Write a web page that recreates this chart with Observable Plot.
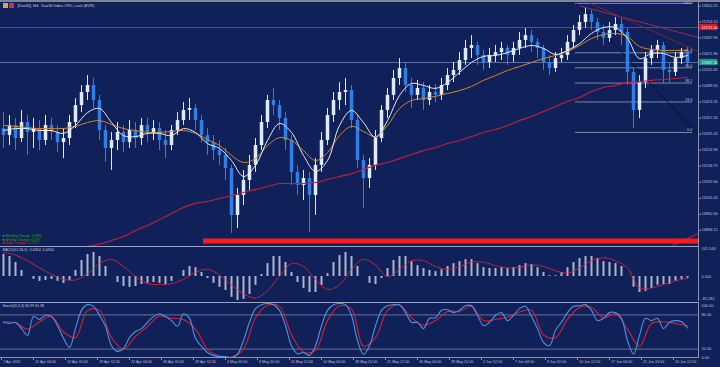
<!DOCTYPE html>
<html><head><meta charset="utf-8">
<script src="https://cdn.jsdelivr.net/npm/d3@7"></script>
<script src="https://cdn.jsdelivr.net/npm/@observablehq/plot@0.6"></script>
<style>
html,body{margin:0;padding:0;background:#102058;}
#wrap{position:relative;width:720px;height:367px;background:#102058;overflow:hidden;}
#wrap svg{overflow:visible;}
.ln{position:absolute;}
</style></head><body><div id="wrap"></div>
<script>
// ---------- data ----------
const titleText = "[Dax30], H4:  Dax30 Index CFD, cash (EUR)";
const candleOpen = [15314,15285,15327,15273,15339,15298,15314,15265,15327,15298,
15256,15273,15339,15409,15463,15492,15430,15306,15232,15265,
15298,15256,15306,15273,15327,15298,15314,15265,15244,15306,
15347,15389,15397,15347,15285,15256,15223,15203,15149,14955,
15038,15100,15162,15244,15339,15430,15409,15356,15265,15133,
15079,15108,15038,15162,15265,15368,15430,15463,15471,15347,
15182,15108,15162,15273,15389,15451,15521,15562,15492,15451,
15480,15430,15463,15451,15492,15533,15554,15595,15645,15657,
15616,15587,15616,15628,15645,15616,15645,15678,15698,15670,
15645,15587,15562,15603,15616,15670,15719,15752,15785,15752,
15711,15686,15719,15744,15711,15546,15389,15504,15603,15637,
15657,15554,15546,15603,15628];
const candleClose = [15285,15327,15273,15339,15298,15314,15265,15327,15298,15256,
15273,15339,15409,15463,15492,15430,15306,15232,15265,15298,
15256,15306,15273,15327,15298,15314,15265,15244,15306,15347,
15389,15397,15347,15285,15256,15223,15203,15149,14955,15038,
15100,15162,15244,15339,15430,15409,15356,15265,15133,15079,
15108,15038,15162,15265,15368,15430,15463,15471,15347,15182,
15108,15162,15273,15389,15451,15521,15562,15492,15451,15480,
15430,15463,15451,15492,15533,15554,15595,15645,15657,15616,
15587,15616,15628,15645,15616,15645,15678,15698,15670,15645,
15587,15562,15603,15616,15670,15719,15752,15785,15752,15711,
15686,15719,15744,15711,15546,15389,15504,15603,15637,15657,
15554,15546,15603,15628,15587];
const candleHigh = [15380,15368,15356,15389,15368,15356,15347,15368,15356,15327,
15314,15368,15438,15492,15533,15521,15451,15327,15298,15339,
15327,15347,15339,15356,15356,15347,15339,15306,15327,15380,
15422,15438,15413,15368,15314,15285,15265,15232,15162,15067,
15141,15203,15273,15368,15451,15480,15430,15380,15285,15162,
15141,15133,15190,15298,15397,15463,15504,15521,15492,15368,
15203,15190,15306,15409,15480,15554,15603,15587,15521,15513,
15504,15492,15496,15521,15562,15587,15628,15678,15698,15670,
15637,15645,15657,15670,15657,15670,15711,15727,15719,15686,
15657,15616,15628,15645,15698,15740,15781,15810,15802,15769,
15740,15752,15773,15769,15727,15562,15533,15628,15657,15678,
15670,15587,15628,15645,15649];
const candleLow = [15232,15244,15223,15256,15203,15232,15223,15244,15265,15215,
15190,15244,15314,15380,15430,15397,15265,15174,15141,15223,
15215,15232,15232,15244,15256,15265,15223,15190,15223,15285,
15327,15347,15306,15256,15203,15182,15162,15100,14881,14901,
14996,15058,15133,15223,15314,15368,15306,15223,15079,15038,
15017,14885,14955,15133,15244,15339,15389,15409,15314,15149,
14984,15067,15141,15256,15356,15430,15492,15463,15397,15430,
15389,15409,15422,15430,15471,15504,15533,15575,15603,15575,
15554,15562,15587,15595,15575,15587,15616,15645,15628,15603,
15554,15533,15546,15587,15595,15645,15698,15727,15719,15678,
15657,15670,15698,15657,15492,15314,15356,15480,15575,15603,
15500,15504,15529,15579,15570];
// moving averages, sampled every 2nd candle
const maFast = [15306,15314,15314,15306,15306,15294,15327,15380,15397,15339,
15285,15281,15294,15294,15285,15314,15298,15252,15232,15182,
15116,15162,15265,15335,15298,15203,15137,15182,15327,15389,
15339,15277,15347,15451,15500,15492,15480,15504,15546,15587,
15612,15616,15628,15645,15657,15645,15620,15637,15665,15707,
15731,15731,15686,15603,15624,15624,15608,15616];
const maSlow = [15327,15323,15318,15314,15314,15314,15323,15339,15347,15331,
15314,15306,15298,15298,15302,15306,15294,15269,15244,15203,
15174,15190,15244,15277,15265,15223,15182,15215,15285,15323,
15302,15281,15327,15397,15430,15438,15447,15459,15471,15488,
15513,15533,15554,15570,15587,15603,15616,15632,15657,15686,
15702,15707,15694,15653,15641,15637,15637,15637];
const ma200 = [null,null,null,null,null,null,14812,14827,14837,14852,
14868,14893,14914,14938,14963,14988,15005,15013,15025,15038,
15050,15062,15075,15087,15087,15087,15091,15104,15116,15128,
15145,15162,15174,15190,15207,15223,15236,15252,15265,15281,
15298,15310,15327,15347,15364,15385,15405,15426,15442,15467,
15484,15492,15504,15508,15513,15517,15521,15525];
// MACD histogram (per candle) and signal (every 2nd candle)
const macdHist = [77,70,49,21,0,-10,-17,-14,-10,-17,
-24,-14,21,56,77,84,70,35,0,-21,
-35,-38,-35,-28,-24,-21,-24,-28,-17,0,
21,35,31,14,-7,-24,-38,-49,-73,-84,
-80,-63,-31,7,45,70,70,49,14,-21,
-42,-56,-56,-31,10,49,73,84,70,35,
0,-24,-28,-7,28,56,70,70,52,38,
28,21,17,24,35,45,52,59,59,45,
31,28,28,31,28,31,38,45,42,31,
14,3,3,14,31,49,63,70,70,63,
52,49,45,35,0,-38,-56,-52,-42,-31,
-28,-28,-17,-10,-6];
const macdSignal = [85,75,55,30,8,-10,-12,10,45,60,
35,0,-25,-28,-25,-10,15,25,5,-30,
-60,-75,-50,0,45,35,-10,-45,-30,25,
60,40,0,25,55,55,35,25,35,50,
50,38,30,32,40,35,20,12,30,55,
65,55,30,-40,-40,-28,-15,-6];
// Stochastic main (per candle) and signal (every 2nd candle)
const stochMain = [67,65,67,56,44,77,72,79,77,61,
39,23,56,88,98,95,79,60,26,16,
21,40,51,56,67,77,82,77,70,60,
82,74,39,25,14,9,7,7,5,11,
35,67,91,98,100,98,88,61,26,12,
14,9,26,61,88,98,100,98,79,35,
11,26,61,88,96,98,98,84,67,67,
56,74,75,88,89,84,88,96,96,79,
61,67,79,84,70,79,91,95,77,56,
32,26,53,67,84,95,96,98,88,70,
74,84,84,74,35,11,44,74,70,74,
56,67,70,68,57];
const stochSignal = [68,66,55,68,77,50,40,88,88,40,
20,42,60,78,74,72,55,20,8,6,
20,75,97,95,45,15,18,70,96,90,
25,40,88,97,75,62,70,86,86,95,
70,72,76,85,88,45,40,72,93,93,
75,82,55,25,65,68,65,61];
// levels and drawn objects
const redLevel = 15731.5, redLevelText = "15731.50";
const lastPrice = 15587, lastPriceText = "15587.20";
const supportLevel = 14850, supportStartBar = 101.5;
const fibLevels = [15831, 15627, 15565, 15502, 15424, 15298];
const fibLabels = ["100.0", "61.8", "50.0", "38.2", "23.6", "0.0"];
const fibStartBar = 287.5, fibEndBar = 346;
const trendX1 = [289, 295, 288, 336];
const trendY1 = [15822, 15831, 15831, 14831];
const trendX2 = [349, 349, 349, 349];
const trendY2 = [15690, 15632, 15285, 14881];
const trendColor = ["#a02a4c", "#7e1f3e", "#08102e", "#c8283c"];
const priceTicks = [15820.25,15754.10,15687.95,15621.80,15555.65,15489.50,15423.35,15357.20,15291.05,15224.90,15158.75,15092.60,15026.45,14960.30,14894.15];
const macdTicks = [101.544, 0, -81.282];
const macdTickText = ["101.544", "0.000", "-81.282"];
const stochTicks = [100, 80, 20, 0];
const stochTickText = ["100.00", "80.00", "20.00", "0.00"];
const timeTickBars = [0.5,16.5,32.5,48.5,64.5,80.5,96.5,112.5,128.5,144.5,160.5,176.5,192.5,208.5,224.5,240.5,256.5,272.5,288.5,304.5,320.5,336.5];
const timeTickLabels = ["7 Apr 2021","12 Apr 04:00","14 Apr 20:00","19 Apr 12:00","22 Apr 04:00","26 Apr 20:00","29 Apr 12:00","4 May 04:00","6 May 20:00","11 May 12:00","14 May 04:00","18 May 20:00","21 May 12:00","26 May 04:00","28 May 20:00","2 Jun 12:00","7 Jun 04:00","9 Jun 20:00","14 Jun 12:00","17 Jun 04:00","21 Jun 20:00","24 Jun 12:00"];
const legendLines = ["■ Monthly Change: 0.80%", "■ Weekly Change: 0.57%", "■ Daily Change: -0.27%"];
const legendColors = ["#1fb51f", "#1fb51f", "#e2231a"];
const macdLabel = "MACD(12,26,9) -5.6354 -5.6354";
const stochLabel = "Stoch(20,3,3) 56.99 61.38";

// ---------- build ----------
const FONT = "'Liberation Sans', 'DejaVu Sans', sans-serif";
const TXT = "#bcc4da";
const FS = 3.9;
const XDOM = [0, 349];
const wrap = document.getElementById("wrap");
const candles = candleOpen.map((o, k) => ({x: 3 * k + 1.5, o, c: candleClose[k], h: candleHigh[k], l: candleLow[k]}));
const up = candles.filter(d => d.c >= d.o), dn = candles.filter(d => d.c < d.o);
const maRows = maFast.map((f, j) => ({x: 6 * j + 1.5, fast: f, slow: maSlow[j], long: ma200[j]}));
const macdRows = macdHist.map((v, k) => ({x: 3 * k + 1.5, v}));
const macdSig = macdSignal.map((v, j) => ({x: 6 * j + 1.5, v}));
const stRows = stochMain.map((v, k) => ({x: 3 * k + 1.5, v}));
const stSig = stochSignal.map((v, j) => ({x: 6 * j + 1.5, v}));
const trends = trendX1.map((x1, i) => ({x1, y1: trendY1[i], x2: trendX2[i], y2: trendY2[i], c: trendColor[i]}));
const boxes = [{y: redLevel, t: redLevelText, f: "#e0141e"}, {y: lastPrice, t: lastPriceText, f: "#1a9a88"}];
const fibRows = fibLevels.map((y, i) => ({y, t: fibLabels[i]}));
const baseStyle = {background: "transparent", color: TXT, fontFamily: FONT, fontSize: "4px", position: "absolute", left: "0px"};

const legendMarks = legendLines.map((t, i) =>
  Plot.text([t], {frameAnchor: "bottom-left", dx: 2, dy: -10.5 + 3.6 * i, lineAnchor: "middle", textAnchor: "start", fill: legendColors[i], fontSize: 3.4}));

const main = Plot.plot({
  width: 720, height: 247, marginLeft: 0, marginRight: 22, marginTop: 2, marginBottom: 1,
  x: {domain: XDOM, axis: null},
  y: {domain: [14827.0, 15834.7], range: [246, 2], axis: null},
  style: {...baseStyle, top: "0px"},
  marks: [
    Plot.ruleY([redLevel], {stroke: "#c8233a", strokeWidth: 1}),
    Plot.ruleY([lastPrice], {stroke: "#6a86b2", strokeWidth: 0.8}),
    Plot.ruleY(fibLevels, {x1: () => fibStartBar, x2: () => fibEndBar, stroke: "#9aa3bd", strokeWidth: 0.8}),
    Plot.link(trends, {x1: "x1", y1: "y1", x2: "x2", y2: "y2", stroke: d => d.c, strokeWidth: 1}),
    Plot.ruleX(up, {x: "x", y1: "l", y2: "h", stroke: "#dfe9ff", strokeWidth: 1, clip: true}),
    Plot.ruleX(dn, {x: "x", y1: "l", y2: "h", stroke: "#2f7fe6", strokeWidth: 1, clip: true}),
    Plot.ruleX(up, {x: "x", y1: "o", y2: "c", stroke: "#dfe9ff", strokeWidth: 3.5, clip: true}),
    Plot.ruleX(dn, {x: "x", y1: "o", y2: "c", stroke: "#2f7fe6", strokeWidth: 3.5, clip: true}),
    Plot.line(maRows.filter(d => d.long != null), {x: "x", y: "long", stroke: "#c81e3c", strokeWidth: 1.1, curve: "catmull-rom", clip: true}),
    Plot.line(maRows, {x: "x", y: "slow", stroke: "#d4882a", strokeWidth: 1, curve: "catmull-rom", clip: true}),
    Plot.line(maRows, {x: "x", y: "fast", stroke: "#e9edf6", strokeWidth: 1, curve: "catmull-rom", clip: true}),
    Plot.ruleY([{y: supportLevel}], {y: "y", x1: () => supportStartBar, x2: () => 349, stroke: "#ff1a1a", strokeWidth: 5}),
    Plot.text(fibRows.slice(1), {x: fibEndBar, y: "y", dy: -2.3, text: "t", textAnchor: "end", fill: "#b8c0d6", fontSize: FS}),
    Plot.text(fibRows.slice(0, 1), {x: fibEndBar, y: "y", dy: -0.5, text: "t", textAnchor: "end", fill: "#b8c0d6", fontSize: FS}),
    Plot.ruleX([349], {stroke: "#8a94b2", strokeWidth: 1}),
    Plot.ruleY(priceTicks, {x1: () => 349, x2: () => 350.5, stroke: "#8a94b2"}),
    Plot.text(priceTicks, {x: 349, y: d => d, dx: 3, text: d => d.toFixed(2), textAnchor: "start", fill: TXT, fontSize: FS}),
    Plot.rect(boxes, {x1: () => 349.6, x2: () => 358.6, y1: d => d.y - 13, y2: d => d.y + 13, fill: "f"}),
    Plot.text(boxes, {x: 349, y: "y", dx: 3, text: "t", textAnchor: "start", fill: "#ffffff", fontSize: FS}),
    Plot.text([titleText], {frameAnchor: "top-left", dx: 17, dy: 3.5, lineAnchor: "middle", textAnchor: "start", fill: "#c8cfe2", fontSize: FS}),
    ...legendMarks
  ]
});
wrap.appendChild(main);

const macd = Plot.plot({
  width: 720, height: 55, marginLeft: 0, marginRight: 22, marginTop: 0, marginBottom: 1,
  x: {domain: XDOM, axis: null},
  y: {domain: [-87.5, 101.5], range: [54, 0], axis: null},
  style: {...baseStyle, top: "247px"},
  marks: [
    Plot.ruleX(macdRows, {x: "x", y1: () => 0, y2: "v", stroke: "#aeb4cc", strokeWidth: 2, clip: true}),
    Plot.line(macdSig, {x: "x", y: "v", stroke: "#e0283a", strokeWidth: 1, strokeDasharray: "1.2,1.2", curve: "catmull-rom", clip: true}),
    Plot.ruleX([349], {stroke: "#8a94b2", strokeWidth: 1}),
    Plot.text(macdTicks.slice(0, 1), {x: 349, y: d => d, dx: 3, dy: 1, text: macdTickText.slice(0, 1), textAnchor: "start", fill: TXT, fontSize: FS}),
    Plot.text(macdTicks.slice(1, 2), {x: 349, y: d => d, dx: 3, text: macdTickText.slice(1, 2), textAnchor: "start", fill: TXT, fontSize: FS}),
    Plot.text(macdTicks.slice(2), {x: 349, y: d => d, dx: 3, dy: -1, text: macdTickText.slice(2), textAnchor: "start", fill: TXT, fontSize: FS}),
    Plot.text([macdLabel], {frameAnchor: "top-left", dx: 2, dy: 2.5, lineAnchor: "middle", textAnchor: "start", fill: "#c8cfe2", fontSize: 3.6})
  ]
});
wrap.appendChild(macd);

const stoch = Plot.plot({
  width: 720, height: 64, marginLeft: 0, marginRight: 22, marginTop: 0, marginBottom: 10,
  x: {domain: XDOM, axis: null},
  y: {domain: [0, 100], range: [57, 0], axis: null},
  style: {...baseStyle, top: "303px"},
  marks: [
    Plot.ruleY([80, 20], {stroke: "#7c88aa", strokeWidth: 0.8}),
    Plot.line(stSig, {x: "x", y: "v", stroke: "#d8202e", strokeWidth: 1.1, curve: "catmull-rom", clip: true}),
    Plot.line(stRows, {x: "x", y: "v", stroke: "#4a95e2", strokeWidth: 1.1, curve: "catmull-rom", clip: true}),
    Plot.ruleX([349], {stroke: "#8a94b2", strokeWidth: 1}),
    Plot.text(stochTicks.slice(0, 1), {x: 349, y: d => d, dx: 3, dy: 2.2, text: stochTickText.slice(0, 1), textAnchor: "start", fill: TXT, fontSize: FS}),
    Plot.text(stochTicks.slice(1, 3), {x: 349, y: d => d, dx: 3, text: stochTickText.slice(1, 3), textAnchor: "start", fill: TXT, fontSize: FS}),
    Plot.text(stochTicks.slice(3), {x: 349, y: d => d, dx: 3, dy: -2.8, text: stochTickText.slice(3), textAnchor: "start", fill: TXT, fontSize: FS}),
    Plot.text([stochLabel], {frameAnchor: "top-left", dx: 2, dy: 2.5, lineAnchor: "middle", textAnchor: "start", fill: "#c8cfe2", fontSize: 3.6}),
    Plot.ruleX(timeTickBars, {x: d => d, y1: () => 0, y2: () => 5.26, stroke: "#8a94b2"}),
    Plot.text(timeTickBars, {x: d => d, frameAnchor: "bottom", dy: 5, dx: 1.5, text: timeTickLabels, textAnchor: "start", fill: TXT, fontSize: 3.7})
  ]
});
wrap.appendChild(stoch);

// frame lines
function hline(top, left, width, h, color) {
  const d = document.createElement("div");
  d.className = "ln";
  Object.assign(d.style, {top: top + "px", left: left + "px", width: width + "px", height: h + "px", background: color});
  wrap.appendChild(d);
}
hline(0, 0, 720, 1.5, "#7d8398");
hline(246, 0, 699, 1.2, "#9aa4c0");
hline(301.5, 0, 699, 1.5, "#9aa4c0");
hline(357, 0, 699, 1, "#8a94b2");
// window icons
hline(3, 3, 5, 5, "#e0a050");
hline(3, 9, 5, 5, "#d03040");
</script>
</body></html>
